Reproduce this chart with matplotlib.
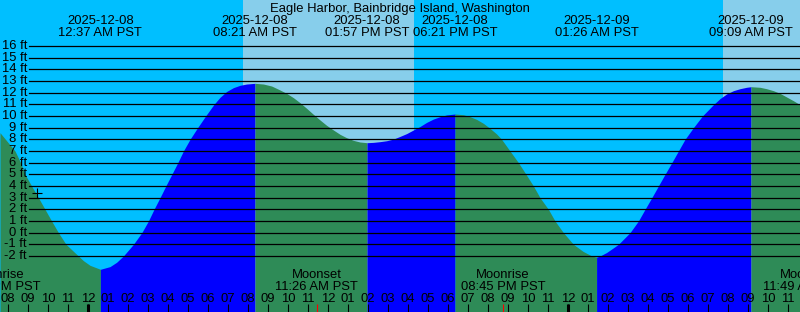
import numpy as np
import matplotlib.pyplot as plt

station = 'Eagle Harbor, Bainbridge Island, Washington'

# hours after 2025-12-08 00:00 PST, water level in ft
tide_hours = [-4.4, -3.65, -3.37, -3.15, -2.82, -2.48, -2.15, -1.82, -1.48, -1.1,
              -0.48, -0.23, 0.1, 0.62, 1.1, 1.43, 1.77, 2.27, 2.69, 3.02,
              3.3, 3.6, 3.89, 4.19, 4.49, 4.77, 5.1, 5.48, 5.88, 6.3,
              6.6, 6.93, 7.27, 7.6, 7.93, 8.35, 8.77, 9.18, 9.6, 9.93,
              10.27, 10.6, 10.93, 11.27, 11.6, 11.93, 12.27, 12.6, 12.93, 13.27,
              13.6, 13.95, 14.27, 14.6, 14.93, 15.27, 15.6, 15.93, 16.27, 16.6,
              16.93, 17.27, 17.6, 17.93, 18.35, 18.77, 19.1, 19.43, 19.77, 20.1,
              20.43, 20.68, 21.1, 21.52, 21.9, 22.27, 22.6, 23.02, 23.35, 23.77,
              24.27, 24.75, 25.19, 25.43, 25.6, 25.93, 26.27, 26.52, 27.1, 27.52,
              27.85, 28.19, 28.52, 28.85, 29.19, 29.52, 29.85, 30.27, 30.72, 31.27,
              31.6, 31.93, 32.27, 32.6, 32.93, 33.15, 33.6, 33.93, 34.27, 34.6,
              34.93, 35.27, 35.6]
tide_feet = [8.57, 7.0, 6.0, 5.0, 4.0, 3.0, 2.0, 1.0, 0.0, -1.0,
             -2.0, -2.4, -2.8, -3.14, -2.91, -2.54, -2.0, -1.0, 0.0, 1.0,
             2.0, 3.0, 4.0, 5.0, 6.0, 7.0, 8.0, 9.0, 10.0, 11.0,
             11.6, 12.1, 12.43, 12.63, 12.74, 12.8, 12.74, 12.57, 12.23, 11.94,
             11.57, 11.14, 10.66, 10.14, 9.66, 9.2, 8.8, 8.43, 8.14, 7.91,
             7.77, 7.71, 7.74, 7.8, 7.88, 8.02, 8.25, 8.49, 8.8, 9.1,
             9.45, 9.74, 9.94, 10.09, 10.17, 10.11, 9.94, 9.71, 9.37, 8.94,
             8.46, 8.0, 7.0, 6.0, 5.0, 4.0, 3.0, 2.0, 1.0, 0.0,
             -1.0, -1.6, -2.0, -2.11, -2.0, -1.7, -1.3, -1.0, 0.0, 1.0,
             2.0, 3.0, 4.0, 5.0, 6.0, 7.0, 8.0, 9.0, 10.0, 10.97,
             11.49, 11.89, 12.17, 12.34, 12.46, 12.51, 12.46, 12.34, 12.17, 11.94,
             11.63, 11.31, 10.97]

extreme_hours = [0.62, 8.35, 13.95, 18.35, 25.43, 33.15]
extreme_dates = ['2025-12-08', '2025-12-08', '2025-12-08', '2025-12-08', '2025-12-09', '2025-12-09']
extreme_times = ['12:37 AM PST', '08:21 AM PST', '01:57 PM PST', '06:21 PM PST', '01:26 AM PST', '09:09 AM PST']

sunrise_hours = [7.75, 31.75]
sunset_hours = [16.3, 40.3]

moon_hours = [-4.5, 11.43, 20.75, 35.82]
moon_events = ['Moonrise', 'Moonset', 'Moonrise', 'Moonset']
moon_times = ['07:30 PM PST', '11:26 AM PST', '08:45 PM PST', '11:49 AM PST']

hour_ticks = list(range(-4, 36))
midnights = [0, 24]
levels = list(range(-2, 17))
now_hour, now_feet = -2.55, 3.4

W, H = 800, 312
xmin, xmax = -4.4, 35.6
ymin, ymax = -6.8, 19.943

font = dict(family='Liberation Sans', fontsize=9.4, color='black')

def top(px):
    return 1 - px / H

fig = plt.figure(figsize=(W / 100, H / 100), dpi=100, facecolor='#00BFFF')
ax = fig.add_axes([0, 0, 1, 1])
ax.set_xlim(xmin, xmax)
ax.set_ylim(ymin, ymax)
ax.axis('off')

for a, b in zip(sunrise_hours, sunset_hours):
    ax.axvspan(a, b, color='#87CEEB', lw=0, zorder=0)

h = np.array(tide_hours)
ft = np.array(tide_feet)
bounds = [h[0]] + extreme_hours + [h[-1]]
for a, b in zip(bounds[:-1], bounds[1:]):
    m = (h >= a - 1e-9) & (h <= b + 1e-9)
    col = '#0000FF' if ft[m][-1] > ft[m][0] else '#2E8B57'
    ax.fill_between(h[m], ft[m], ymin, color=col, lw=0, zorder=1)

for lv in levels:
    ax.axhline(lv, xmin=29 / W, xmax=1, color='black', lw=0.9, zorder=2)
    ax.text(27 / W, lv, f'{lv} ft', ha='right', va='center',
            transform=ax.get_yaxis_transform(), zorder=3, **font)

ax.plot(now_hour, now_feet, marker='+', color='black', ms=7, mew=0.8, zorder=3)

xt = ax.get_xaxis_transform()
ax.text(0.5, top(12), station, ha='center', va='baseline', transform=ax.transAxes, **font)
for x, d, t in zip(extreme_hours, extreme_dates, extreme_times):
    ax.text(x, top(24.5), d, ha='center', va='baseline', transform=xt, **font)
    ax.text(x, top(36), t, ha='center', va='baseline', transform=xt, **font)

for x, e, t in zip(moon_hours, moon_events, moon_times):
    ax.text(x, top(278.5), e, ha='center', va='baseline', transform=xt, clip_on=False, **font)
    ax.text(x, top(290.5), t, ha='center', va='baseline', transform=xt, clip_on=False, **font)

for hr in hour_ticks:
    ax.text(hr, top(301.5), f'{(hr % 12) or 12:02d}', ha='center', va='baseline', transform=xt, **font)
ax.vlines(hour_ticks, 0, 8 / H, transform=xt, color='black', lw=0.8, zorder=3)
ax.vlines(midnights, 0, 8 / H, transform=xt, color='black', lw=2.2, zorder=3)
in_view = [x for x in moon_hours if xmin < x < xmax]
ax.vlines(in_view, 0, 8 / H, transform=xt, color='red', lw=0.8, zorder=4)

fig.savefig('out.png', dpi=100, facecolor=fig.get_facecolor())
